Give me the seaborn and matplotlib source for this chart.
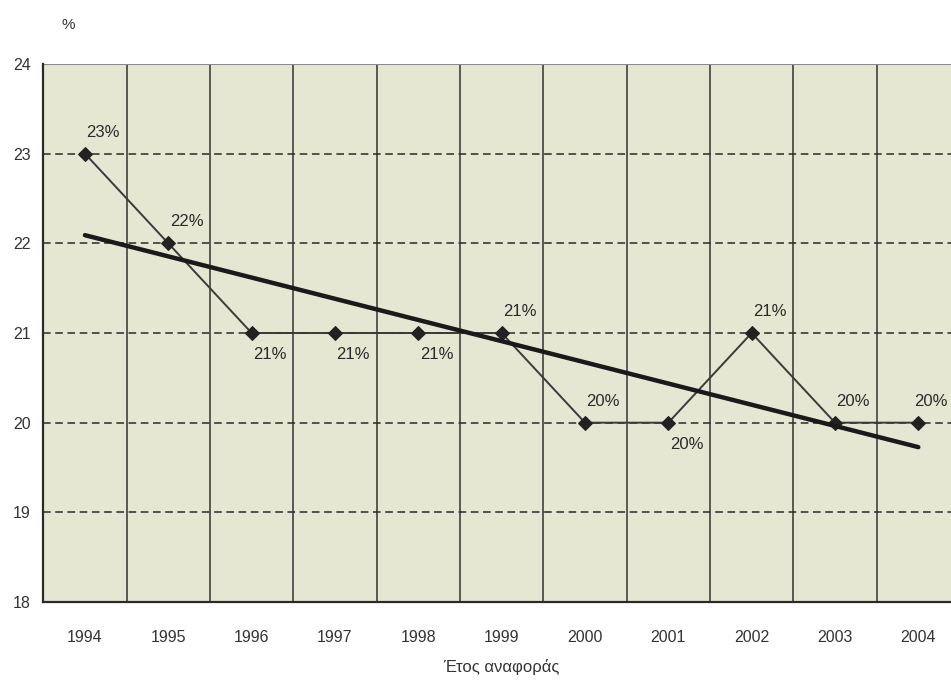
import matplotlib
matplotlib.use("Agg")
import matplotlib.pyplot as plt
import seaborn as sns
import numpy as np
import pandas as pd

years = ["1994", "1995", "1996", "1997", "1998", "1999", "2000", "2001", "2002", "2003", "2004"]
values = [23, 22, 21, 21, 21, 21, 20, 20, 21, 20, 20]
labels = ["23%", "22%", "21%", "21%", "21%", "21%", "20%", "20%", "21%", "20%", "20%"]
# label placement: 1 = above, -1 = below
label_side = [1, 1, -1, -1, -1, 1, 1, -1, 1, 1, 1]
y_ticks = [18, 19, 20, 21, 22, 23, 24]

sns.set_theme(style="white")
plt.rcParams["font.family"] = ["Liberation Sans Narrow", "Liberation Sans", "DejaVu Sans"]

df = pd.DataFrame({"idx": np.arange(len(years)), "val": values})

fig = plt.figure(figsize=(9.51, 6.81), dpi=100)
W, H = 951, 681
left, right, top, bottom = 43.3, 960.0, 64.0, 602.0
ax = fig.add_axes([left / W, 1 - bottom / H, (right - left) / W, (bottom - top) / H])
ax.set_facecolor("#e6e7d2")

ax.set_xlim(-0.5, len(years) - 0.5)
ax.set_ylim(18, 24)

# grid: vertical solid at category boundaries, horizontal dashed
for b in np.arange(0.5, len(years) - 0.5, 1.0):
    ax.axvline(b, color="#333333", lw=1.1, zorder=1)
for yv in y_ticks[1:-1]:
    ax.axhline(yv, color="#2a2a2a", lw=1.1, ls=(0, (5, 3)), zorder=1)
ax.axhline(24, color="#8a8a8a", lw=1.5, zorder=1)

sns.lineplot(data=df, x="idx", y="val", ax=ax, color="#3a3a3a", lw=1.4,
             marker="D", markersize=7, markeredgecolor="#222222",
             markerfacecolor="#222222", zorder=3)
sns.regplot(data=df, x="idx", y="val", ax=ax, scatter=False, ci=None,
            truncate=True, line_kws={"color": "#1a1a1a", "lw": 3.2, "zorder": 4})

n = len(years)
for i, (v, lab, s) in enumerate(zip(values, labels, label_side)):
    dx = -3 if i == n - 1 else 1
    if s > 0:
        ax.annotate(lab, (i, v), xytext=(dx, 10), textcoords="offset points",
                    ha="left", va="bottom", fontsize=12, color="#2a2a2a")
    else:
        ax.annotate(lab, (i, v), xytext=(dx, -10), textcoords="offset points",
                    ha="left", va="top", fontsize=12, color="#2a2a2a")

ax.set_xticks(np.arange(len(years)))
ax.set_xticklabels(years)
ax.set_xticks(np.arange(-0.5, len(years), 1.0), minor=True)
ax.set_yticks(y_ticks)
ax.set_yticklabels([str(t) for t in y_ticks])
ax.tick_params(axis="x", which="major", length=0, pad=20, labelsize=11.5, colors="#333333")
ax.tick_params(axis="x", which="minor", length=5, width=1.1, color="#2a2a2a", direction="out")
ax.tick_params(axis="y", length=5, width=1.1, color="#2a2a2a", direction="out", pad=4,
               labelsize=11.5, colors="#333333")
ax.tick_params(axis="y", color="#2a2a2a")

for sp in ["top", "right"]:
    ax.spines[sp].set_visible(False)
for sp in ["left", "bottom"]:
    ax.spines[sp].set_color("#2a2a2a")
    ax.spines[sp].set_linewidth(1.6)

ax.set_xlabel("Έτος αναφοράς", fontsize=12, color="#333333", labelpad=10)
ax.set_ylabel("")
fig.text(68 / W, 1 - 25 / H, "%", fontsize=11, color="#333333", ha="center", va="center")

fig.savefig("out.png", dpi=100, facecolor="white")
